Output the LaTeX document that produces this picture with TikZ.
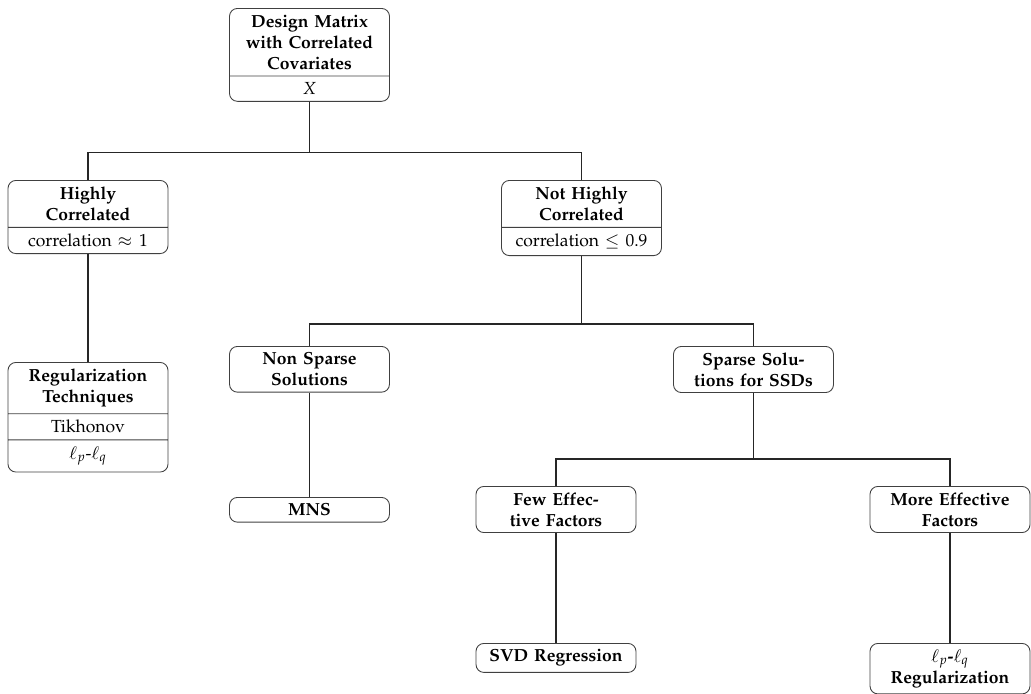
\documentclass[tikz,border=0pt]{standalone}
\usepackage[T1]{fontenc}
\usepackage{amssymb, amsmath}
\usepackage{mathpazo}
\usepackage{tikz}
\usetikzlibrary{calc,shapes.multipart}

\begin{document}
\begin{tikzpicture}[x=0.5714pt,y=-0.5714pt,font=\bfseries]
    \tikzstyle{box}=[draw=black!75,line width=.5pt,rounded corners=4.5pt,text width=85pt,inner xsep=3.2pt,inner ysep=3.5pt,align=center]
    \tikzstyle{split box}=[box,rectangle split,rectangle split parts=2]
    \tikzstyle{triple box}=[box,rectangle split,rectangle split parts=3]
    \tikzstyle{fork}=[draw=black!85,line width=.7pt]
    \useasboundingbox (0,0) rectangle (1031,693);

    % top level
    \node(0)[split box,anchor=north] at (309.5,8) {Design Matrix\\with Correlated\\Covariates \nodepart{two}\mdseries $X$};
    % correlation
    \node(1)[split box,anchor=north] at (88,180) {Highly\\Correlated \nodepart{two}\mdseries correlation $\approx 1$};
    \node(2)[split box,anchor=north] at (581.5,180) {Not Highly\\Correlated \nodepart{two}\mdseries correlation $\leq 0.9$};
    % solutions
    \node(3)[triple box,anchor=north] at (88,362) {Regularization\\Techniques \nodepart{two}\mdseries Tikhonov \nodepart{three}\mdseries $\ell_p$-$\ell_q$};
    \node(4)[box,anchor=north] at (309.5,346) {Non Sparse\\Solutions};
    \node(5)[box,anchor=north] at (753.5,346) {Sparse Solu-\\tions for SSDs};
    \node(6)[box,anchor=north] at (309.5,497) {MNS};
    \node(7)[box,anchor=north] at (556,486) {Few Effec-\\tive Factors};
    \node(8)[box,anchor=north] at (950,486) {More Effective\\Factors};
    \node(9)[box,anchor=north] at (556,643) {SVD Regression};
    \node(10)[box,anchor=north] at (950,643) {$\ell_p$-$\ell_q$\\Regularization};

    % forks
    \draw[fork] (0.south) -- ++(0,51) -| (1.north);
    \draw[fork] (0.south) -- ++(0,51) -| (2.north);
    \draw[fork] (1.south) -- (3.north);
    \draw[fork] (2.south) -- ++(0,68) -| (4.north);
    \draw[fork] (2.south) -- ++(0,68) -| (5.north);
    \draw[fork] (4.south) -- (6.north);
    \draw[fork] (5.south) -- ++(0,66) -| (7.north);
    \draw[fork] (5.south) -- ++(0,66) -| (8.north);
    \draw[fork] (7.south) -- (9.north);
    \draw[fork] (8.south) -- (10.north);
\end{tikzpicture}
\end{document}
